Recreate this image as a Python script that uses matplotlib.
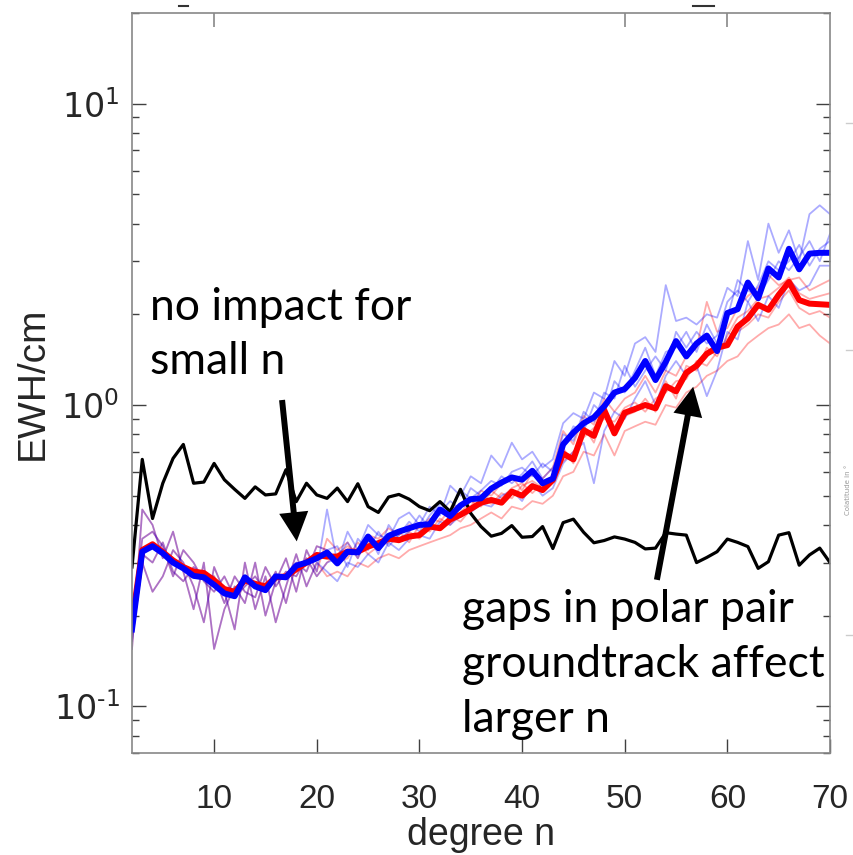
import numpy as np
import matplotlib.pyplot as plt
from matplotlib import font_manager
from matplotlib.ticker import LogLocator, NullFormatter
from matplotlib.lines import Line2D


def pick_font(names):
    for name in names:
        try:
            font_manager.findfont(name, fallback_to_default=False)
            return name
        except ValueError:
            pass
    return 'DejaVu Sans'


axis_font = pick_font(['Liberation Sans Narrow', 'Arial Narrow', 'Liberation Sans'])
plt.rcParams['mathtext.fontset'] = 'custom'
plt.rcParams['mathtext.rm'] = axis_font

# spherical harmonic degree
degree = list(range(2, 71))

# signal reference (black)
signal = [0.29, 0.66, 0.42, 0.55, 0.665, 0.74, 0.55, 0.555, 0.64, 0.565, 0.525, 0.49, 0.535, 0.503,
          0.507, 0.61, 0.478, 0.55, 0.503, 0.49, 0.53, 0.478, 0.548, 0.46, 0.44, 0.495, 0.505, 0.487,
          0.46, 0.446, 0.478, 0.443, 0.525, 0.437, 0.395, 0.367, 0.375, 0.398, 0.364, 0.366, 0.395,
          0.334, 0.407, 0.418, 0.378, 0.349, 0.355, 0.365, 0.359, 0.35, 0.333, 0.335, 0.377, 0.373,
          0.37, 0.3, 0.312, 0.326, 0.359, 0.35, 0.339, 0.287, 0.302, 0.37, 0.377, 0.294, 0.318, 0.335, 0.3]

# mean error, gapped groundtrack (blue) and full groundtrack (red)
blue_mean = [0.18, 0.326, 0.34, 0.322, 0.30, 0.287, 0.271, 0.268, 0.253, 0.237, 0.232, 0.268, 0.25,
             0.243, 0.27, 0.268, 0.293, 0.3, 0.31, 0.324, 0.298, 0.326, 0.324, 0.366, 0.335, 0.368,
             0.38, 0.39, 0.4, 0.402, 0.45, 0.428, 0.464, 0.487, 0.49, 0.528, 0.553, 0.575, 0.565,
             0.605, 0.55, 0.57, 0.74, 0.81, 0.87, 0.91, 0.99, 1.1, 1.13, 1.23, 1.4, 1.21, 1.39, 1.63,
             1.45, 1.6, 1.7, 1.51, 2.02, 2.08, 2.55, 2.26, 2.84, 2.65, 3.3, 2.82, 3.18, 3.2, 3.2]
red_mean = [0.19, 0.33, 0.345, 0.325, 0.305, 0.29, 0.28, 0.277, 0.262, 0.245, 0.24, 0.262, 0.255,
            0.25, 0.268, 0.27, 0.285, 0.3, 0.318, 0.314, 0.314, 0.326, 0.326, 0.339, 0.348, 0.36,
            0.356, 0.366, 0.37, 0.395, 0.39, 0.417, 0.432, 0.452, 0.474, 0.484, 0.474, 0.516, 0.5,
            0.538, 0.522, 0.564, 0.69, 0.66, 0.826, 0.79, 0.963, 0.805, 0.943, 0.97, 1.0, 0.975,
            1.155, 1.11, 1.28, 1.35, 1.48, 1.55, 1.58, 1.82, 1.94, 2.15, 2.07, 2.32, 2.56, 2.23,
            2.17, 2.16, 2.15]

# individual months (thin lines)
blue_1 = [0.155, 0.45, 0.40, 0.31, 0.38, 0.28, 0.21, 0.30, 0.155, 0.21, 0.25, 0.22, 0.30, 0.20, 0.26,
          0.31, 0.24, 0.33, 0.28, 0.45, 0.30, 0.38, 0.33, 0.40, 0.37, 0.36, 0.42, 0.44, 0.40, 0.46,
          0.43, 0.54, 0.50, 0.58, 0.55, 0.68, 0.62, 0.75, 0.66, 0.70, 0.62, 0.66, 0.87, 0.94, 0.90,
          1.10, 1.05, 1.40, 1.25, 1.60, 1.68, 1.50, 2.5, 1.9, 1.95, 1.85, 2.0, 1.95, 2.45, 2.3, 3.5,
          2.6, 4.0, 3.2, 3.8, 3.0, 4.3, 4.6, 4.3]
blue_2 = [0.165, 0.30, 0.24, 0.27, 0.33, 0.30, 0.25, 0.19, 0.29, 0.24, 0.18, 0.30, 0.21, 0.27, 0.19,
          0.25, 0.32, 0.25, 0.30, 0.28, 0.26, 0.30, 0.29, 0.32, 0.30, 0.35, 0.33, 0.36, 0.37, 0.36,
          0.41, 0.40, 0.43, 0.44, 0.47, 0.46, 0.50, 0.52, 0.48, 0.55, 0.50, 0.53, 0.64, 0.70, 0.75,
          0.55, 0.82, 0.95, 0.90, 1.05, 1.20, 1.00, 1.25, 1.40, 1.25, 1.35, 1.07, 1.30, 1.75, 1.65,
          2.2, 1.9, 2.3, 2.1, 2.6, 2.4, 2.5, 2.9, 2.9]
blue_3 = [0.19, 0.36, 0.38, 0.34, 0.27, 0.33, 0.30, 0.26, 0.24, 0.27, 0.23, 0.25, 0.27, 0.24, 0.28,
          0.22, 0.30, 0.28, 0.34, 0.33, 0.34, 0.29, 0.36, 0.33, 0.38, 0.34, 0.37, 0.41, 0.38, 0.43,
          0.47, 0.44, 0.52, 0.49, 0.52, 0.56, 0.54, 0.60, 0.62, 0.58, 0.64, 0.60, 0.80, 0.76, 0.95,
          0.88, 1.10, 1.05, 1.35, 1.15, 1.30, 1.45, 1.30, 1.75, 1.55, 1.75, 1.60, 1.70, 2.2, 2.4,
          2.2, 2.5, 3.0, 2.8, 3.0, 3.4, 2.9, 3.3, 3.5]
blue_4 = [0.175, 0.32, 0.30, 0.35, 0.28, 0.26, 0.29, 0.27, 0.27, 0.22, 0.27, 0.24, 0.23, 0.29, 0.25,
          0.28, 0.27, 0.31, 0.27, 0.30, 0.31, 0.35, 0.31, 0.37, 0.32, 0.40, 0.36, 0.38, 0.43, 0.39,
          0.44, 0.48, 0.45, 0.53, 0.50, 0.52, 0.58, 0.55, 0.59, 0.65, 0.57, 0.62, 0.72, 0.85, 0.82,
          1.00, 0.93, 1.20, 1.10, 1.30, 1.55, 1.25, 1.50, 1.55, 1.75, 1.50, 1.85, 1.60, 1.95, 2.6,
          2.4, 2.3, 2.6, 3.0, 2.8, 3.1, 3.5, 3.0, 3.7]
red_1 = [0.155, 0.45, 0.40, 0.31, 0.38, 0.28, 0.21, 0.30, 0.155, 0.21, 0.25, 0.22, 0.30, 0.20, 0.26,
         0.31, 0.24, 0.33, 0.28, 0.36, 0.33, 0.35, 0.31, 0.37, 0.36, 0.39, 0.37, 0.40, 0.39, 0.42,
         0.41, 0.45, 0.47, 0.46, 0.52, 0.50, 0.55, 0.58, 0.52, 0.60, 0.57, 0.62, 0.82, 0.74, 0.92,
         0.86, 1.05, 0.95, 1.05, 1.10, 1.25, 1.10, 1.30, 1.25, 1.45, 1.55, 2.2, 1.75, 1.80, 2.1,
         2.3, 2.45, 2.7, 2.5, 2.6, 2.65, 2.4, 2.5, 2.6]
red_2 = [0.165, 0.30, 0.24, 0.27, 0.33, 0.30, 0.25, 0.19, 0.29, 0.24, 0.18, 0.30, 0.21, 0.27, 0.19,
         0.25, 0.32, 0.25, 0.30, 0.27, 0.28, 0.27, 0.30, 0.29, 0.31, 0.32, 0.31, 0.33, 0.34, 0.35,
         0.36, 0.37, 0.39, 0.40, 0.42, 0.44, 0.42, 0.46, 0.45, 0.48, 0.47, 0.50, 0.58, 0.60, 0.70,
         0.68, 0.80, 0.68, 0.82, 0.85, 0.88, 0.86, 1.00, 0.98, 1.10, 1.15, 1.25, 1.30, 1.40, 1.45,
         1.60, 1.70, 1.80, 1.85, 2.0, 1.80, 1.85, 1.70, 1.60]
red_3 = [0.19, 0.36, 0.38, 0.34, 0.27, 0.33, 0.30, 0.26, 0.24, 0.27, 0.23, 0.25, 0.27, 0.24, 0.28,
         0.22, 0.30, 0.28, 0.34, 0.33, 0.30, 0.31, 0.35, 0.32, 0.34, 0.35, 0.38, 0.35, 0.40, 0.38,
         0.42, 0.40, 0.44, 0.48, 0.46, 0.52, 0.49, 0.53, 0.55, 0.51, 0.55, 0.58, 0.65, 0.70, 0.78,
         0.84, 0.90, 0.88, 0.98, 1.02, 0.95, 1.05, 1.10, 1.20, 1.22, 1.40, 1.35, 1.50, 1.65, 1.75,
         1.85, 2.00, 1.95, 2.20, 2.4, 2.1, 2.0, 2.05, 1.95]
red_4 = [0.175, 0.32, 0.30, 0.35, 0.28, 0.26, 0.29, 0.27, 0.27, 0.22, 0.27, 0.24, 0.23, 0.29, 0.25,
         0.28, 0.27, 0.31, 0.27, 0.30, 0.32, 0.34, 0.32, 0.35, 0.33, 0.37, 0.35, 0.38, 0.36, 0.40,
         0.39, 0.43, 0.41, 0.45, 0.49, 0.47, 0.51, 0.49, 0.54, 0.56, 0.53, 0.56, 0.72, 0.64, 0.85,
         0.75, 0.95, 0.85, 0.92, 0.95, 1.05, 0.95, 1.20, 1.05, 1.35, 1.30, 1.55, 1.45, 1.70, 1.95,
         2.05, 2.25, 2.3, 2.45, 2.65, 2.35, 2.25, 2.3, 2.35]

ytick_vals = [0.1, 1, 10]
ytick_labels = ['$\\mathregular{10^{\u2010 1}}$'.replace(' ', ''), r'$\mathregular{10^{0}}$',
                r'$\mathregular{10^{1}}$']
xtick_vals = [10, 20, 30, 40, 50, 60, 70]

note_font = ['Lato', 'DejaVu Sans']
ink = '#262626'

fig = plt.figure(figsize=(8.54, 8.55), dpi=100)
ax = fig.add_axes([132/854, 102/855, 698/854, 740/855])

for y in [red_1, red_2, red_3, red_4]:
    ax.plot(degree, y, color='red', lw=1.3, alpha=0.33)
for y in [blue_1, blue_2, blue_3, blue_4]:
    ax.plot(degree, y, color='blue', lw=1.3, alpha=0.33)
ax.plot(degree, signal, color='black', lw=2.3)
ax.plot(degree, red_mean, color='red', lw=4.3)
ax.plot(degree, blue_mean, color='blue', lw=4.3)

ax.set_yscale('log')
ax.set_xlim(2, 70)
ax.set_ylim(0.07, 20)
ax.set_xticks(xtick_vals)
ax.set_xticklabels([str(v) for v in xtick_vals], family=axis_font, fontsize=24, color=ink)
ax.set_yticks(ytick_vals)
ax.set_yticklabels(ytick_labels, fontsize=24, color=ink)
ax.yaxis.set_minor_locator(LogLocator(base=10, subs=np.arange(2, 10)))
ax.yaxis.set_minor_formatter(NullFormatter())
ax.tick_params(which='both', direction='in', right=True, top=False, color='#404040', width=1.0)
ax.tick_params(which='major', length=10)
ax.tick_params(which='minor', length=5)
ax.tick_params(axis='x', pad=22)
ax.tick_params(axis='y', pad=9)
for s in ax.spines.values():
    s.set_color('#888888')
    s.set_linewidth(1.2)

top = ax.secondary_xaxis('top')
top.set_xticks([10, 50, 60])
top.set_xticklabels([])
top.tick_params(direction='in', length=10, color='#888888', width=1.2)
top.spines['top'].set_visible(False)

ax.set_xlabel('degree n', family=axis_font, fontsize=27, color=ink, labelpad=2)
ax.set_ylabel('EWH/cm', family=axis_font, fontsize=28, color=ink, labelpad=2)

# annotations
ax.text(0.026, 0.585, 'no impact for', transform=ax.transAxes, family=note_font, fontsize=32, va='baseline')
ax.text(0.026, 0.512, 'small n', transform=ax.transAxes, family=note_font, fontsize=32, va='baseline')
ax.text(0.473, 0.177, 'gaps in polar pair', transform=ax.transAxes, family=note_font, fontsize=32, va='baseline')
ax.text(0.473, 0.103, 'groundtrack affect', transform=ax.transAxes, family=note_font, fontsize=32, va='baseline')
ax.text(0.473, 0.029, 'larger n', transform=ax.transAxes, family=note_font, fontsize=32, va='baseline')

arrow = dict(arrowstyle='simple,head_length=21,head_width=21,tail_width=4.3',
             fc='black', ec='none', shrinkA=0, shrinkB=0, mutation_scale=1)
ax.annotate('', xy=(0.236, 0.286), xytext=(0.215, 0.477), xycoords='axes fraction',
            textcoords='axes fraction', arrowprops=arrow)
ax.annotate('', xy=(0.804, 0.495), xytext=(0.752, 0.234), xycoords='axes fraction',
            textcoords='axes fraction', arrowprops=arrow)

# leftovers of neighbouring panel at the right edge
fig.text(848/854, 1 - 490/855, 'Colatitude in °', rotation=90, fontsize=5, color='#999999',
         ha='center', va='center')
for yy in [123, 350, 635]:
    fig.add_artist(Line2D([846/854, 854/854], [1 - yy/855, 1 - yy/855], color='#cccccc', lw=1))
fig.add_artist(Line2D([179/854, 188/854], [1 - 6/855, 1 - 6/855], color='#333333', lw=1.5))
fig.add_artist(Line2D([693/854, 714/854], [1 - 6/855, 1 - 6/855], color='#333333', lw=1.5))

fig.savefig('out.png', dpi=100)
